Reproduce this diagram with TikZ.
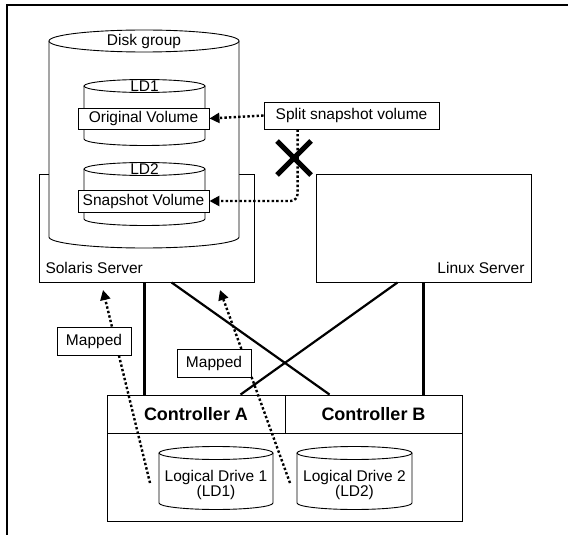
\documentclass[tikz,border=0pt]{standalone}
\usepackage{fontspec}
\setmainfont{Liberation Sans}
\usetikzlibrary{arrows.meta}

% cylinder: left, right, top, bottom, y radius
\newcommand{\drum}[5]{%
  \draw[line width=0.9pt, fill=white] (#1,#3) -- (#1,#4) arc[start angle=180, end angle=0, x radius={(#2-#1)/2}, y radius=#5] -- (#2,#3);
  \draw[line width=0.9pt, fill=white] ({(#1+#2)/2},#3) ellipse[x radius={(#2-#1)/2}, y radius=#5];
}

\begin{document}
\begin{tikzpicture}[x=1pt, y=-1pt,
  txt/.style={font=\fontsize{15.5}{16}\selectfont},
  box/.style={draw, line width=0.9pt, fill=white, inner sep=0pt, txt},
  ctrl/.style={box, minimum height=38pt, font=\fontsize{18}{20}\selectfont\bfseries},
  link/.style={line width=2.2pt},
  dots/.style={line width=2.4pt, dash pattern=on 2.4pt off 2.2pt, -{Triangle[length=10pt,width=10pt]}}]
\useasboundingbox (0,0) rectangle (568,535);

% frame
\draw[line width=1.2pt] (568,5) -- (7,5) -- (7,535);

% servers
\node[box, minimum width=215pt, minimum height=108pt] (sol) at (146.5,228) {};
\node[txt, anchor=west] (solname) at (42,268) {Solaris Server};
\node[box, minimum width=215pt, minimum height=108pt] (lin) at (423.5,228) {};
\node[txt, anchor=east] (linname) at (528,268) {Linux Server};

% disk group with LD1 and LD2
\drum{49}{239}{41}{237}{11}
\node[txt] (dg) at (144,41) {Disk group};
\drum{84}{205}{86}{139}{6.5}
\node[txt] (ld1) at (144.5,86) {LD1};
\node[box, minimum width=131pt, minimum height=21pt] (orig) at (143.5,118.5) {Original Volume};
\drum{84}{205}{169}{219}{6.5}
\node[txt] (ld2) at (144.5,169) {LD2};
\node[box, minimum width=131pt, minimum height=22pt] (snap) at (143.5,201) {Snapshot Volume};

% split
\node[box, minimum width=175pt, minimum height=27pt] (split) at (351.5,115.5) {Split snapshot volume};
\draw[dots] (split.west) -- (orig.east);
\draw[dots, rounded corners=7pt] ([xshift=34pt]split.south west) |- (snap.east);
\draw[line width=5pt] (277,141) -- (311,175) (277,175) -- (311,141);

% controllers
\node[ctrl, minimum width=178pt] (ctrla) at (196,414) {Controller A};
\node[ctrl, minimum width=177pt] (ctrlb) at (373.5,414) {Controller B};
\node[box, minimum width=355pt, minimum height=88pt] (array) at (284.5,477) {};

% cables
\draw[link] ([xshift=106pt]sol.south west) -- ([xshift=38pt]ctrla.north west);
\draw[link] ([xshift=133pt]sol.south west) -- ([xshift=45pt]ctrlb.north west);
\draw[link] ([xshift=82pt]lin.south west) -- ([xshift=134pt]ctrla.north west);
\draw[link] ([xshift=108pt]lin.south west) -- ([xshift=139pt]ctrlb.north west);

% logical drives
\foreach \l/\r/\n in {159/273/1, 297/412/2}{
  \drum{\l}{\r}{453}{503}{6.5}
  \node[align=center, font=\fontsize{15.5}{15}\selectfont] (drive\n) at ({(\l+\r)/2},485) {Logical Drive \n\\(LD\n)};
}

% mapping
\coordinate (mapfroma) at (150,483);
\coordinate (maptoa) at (103,290);
\coordinate (mapfromb) at (290,483);
\coordinate (maptob) at (220,290);
\draw[dots] (mapfroma) -- (maptoa);
\draw[dots] (mapfromb) -- (maptob);
\node[box, minimum width=74pt, minimum height=28pt] (mapa) at (94,341) {Mapped};
\node[box, minimum width=74pt, minimum height=28pt] (mapb) at (214,363) {Mapped};

\end{tikzpicture}
\end{document}
